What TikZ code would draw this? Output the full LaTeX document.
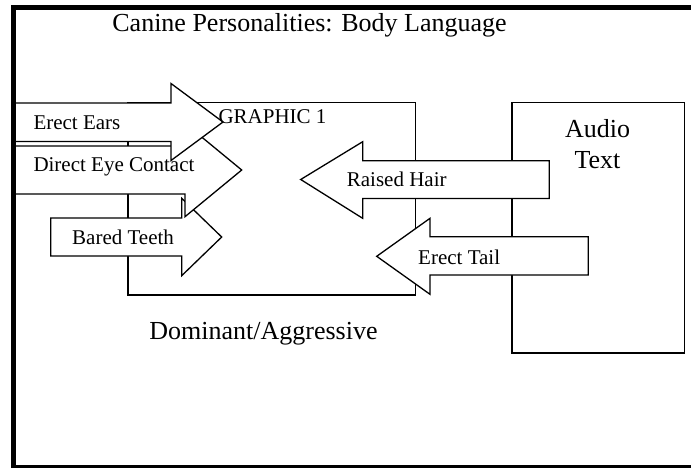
\documentclass[tikz,border=0pt]{standalone}
\usepackage{fontspec}
\setmainfont{Liberation Serif}
\begin{document}
\begin{tikzpicture}[x=1pt,y=-1pt,
  box/.style={draw=black,line width=1.3pt,fill=white},
  arrowshape/.style={draw=black,line width=1.3pt,fill=white,line join=miter},
  big/.style={font=\fontsize{26}{30}\selectfont,inner sep=0pt},
  small/.style={font=\fontsize{21}{24}\selectfont,inner sep=0pt}]
\useasboundingbox[fill=white] (0,0) rectangle (691,467);
% boxes
\draw[box] (128,102.7) rectangle (415.5,295);
\draw[box] (512,102.7) rectangle (684.5,353);
% arrows (bottom to top)
\draw[arrowshape] (50.7,218) -- (181.7,218) -- (181.7,198.3) -- (221.7,237) -- (181.7,275.7) -- (181.7,256) -- (50.7,256) -- cycle;
\draw[arrowshape] (12,146) -- (185,146) -- (185,123.3) -- (241.7,170) -- (185,216.7) -- (185,194) -- (12,194) -- cycle;
\draw[arrowshape] (12,103) -- (171,103) -- (171,83.5) -- (223,122) -- (171,160.5) -- (171,141.5) -- (12,141.5) -- cycle;
\draw[arrowshape] (549.3,160.7) -- (362.7,160.7) -- (362.7,141.7) -- (300.7,179.5) -- (362.7,218.3) -- (362.7,198.5) -- (549.3,198.5) -- cycle;
\draw[arrowshape] (588.3,236.7) -- (430,236.7) -- (430,218.3) -- (376.7,256.3) -- (430,294.3) -- (430,275) -- (588.3,275) -- cycle;
% texts
\node[big,anchor=base] (title) at (309.5,31.7) {Canine Personalities: Body Language};
\node[big,anchor=base] (dom) at (263.5,339.3) {Dominant/Aggressive};
\node[big,anchor=base] (audio) at (597.5,137.7) {Audio};
\node[big,anchor=base] (text) at (597.5,168.3) {Text};
\node[small,anchor=base west] (graphic) at (218.3,123) {GRAPHIC 1};
\node[small,anchor=base west] (ears) at (33.3,129.3) {Erect Ears};
\node[small,anchor=base west] (eye) at (33.3,171.7) {Direct Eye Contact};
\node[small,anchor=base west] (teeth) at (72,244.3) {Bared Teeth};
\node[small,anchor=base west] (hair) at (346.7,186.7) {Raised Hair};
\node[small,anchor=base west] (tail) at (418,264) {Erect Tail};
% outer frame
\draw[line width=5pt] (13.5,7.8) rectangle (720,467.2);
\end{tikzpicture}
\end{document}
